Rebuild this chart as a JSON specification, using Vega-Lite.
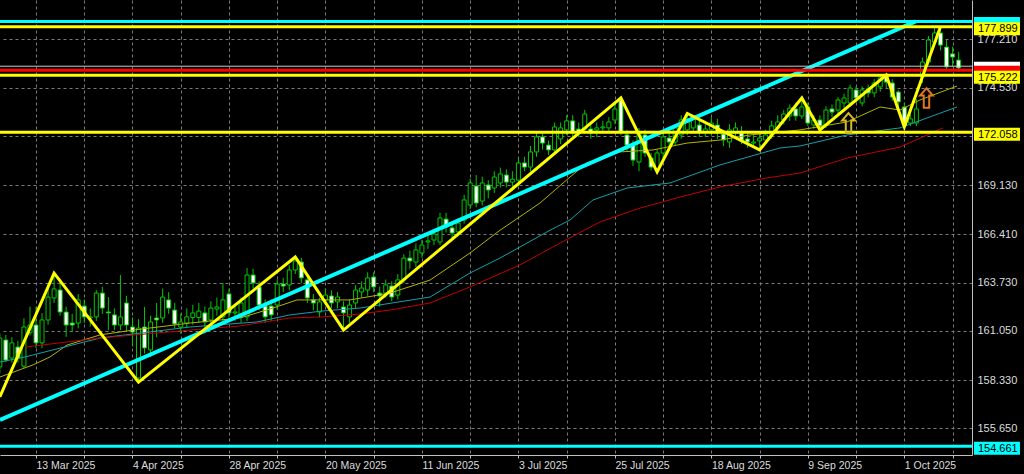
{
"$schema":"https://vega.github.io/schema/vega-lite/v6.json",
"width":972,"height":455,
"autosize":{"type":"none"},
"padding":{"left":0,"top":0,"right":52,"bottom":19},
"background":"#000000",
"config":{"view":{"stroke":null},"scale":{"continuousPadding":0},
 "axis":{"gridColor":"#7a7a7a","gridDash":[3,3],"gridWidth":1,"domainColor":"#c0c0c0","domainWidth":1,"tickColor":"#c0c0c0","labelColor":"#dcdcdc","labelFont":"Liberation Sans","labelOverlap":false,"labelFlush":false,"labelBound":false}},
"resolve":{"scale":{"color":"independent"}},
"datasets":{
"bars":[
{"k":-6,"o":159.06,"h":160.9,"l":158.7,"c":160.66},
{"k":-5,"o":160.55,"h":160.83,"l":159.33,"c":159.44},
{"k":-4,"o":159.55,"h":160.7,"l":159.3,"c":160.39},
{"k":-3,"o":160.16,"h":160.5,"l":159.3,"c":159.55},
{"k":-2,"o":159.1,"h":161.75,"l":159.0,"c":161.27},
{"k":-1,"o":160.95,"h":162.4,"l":160.8,"c":161.38},
{"k":0,"o":161.38,"h":162.4,"l":160.1,"c":160.39},
{"k":1,"o":160.39,"h":162.05,"l":160.1,"c":161.66},
{"k":2,"o":161.66,"h":163.7,"l":161.4,"c":162.93},
{"k":3,"o":162.88,"h":164.26,"l":162.6,"c":163.38},
{"k":4,"o":163.32,"h":163.9,"l":161.9,"c":162.1},
{"k":5,"o":162.1,"h":162.4,"l":160.72,"c":161.38},
{"k":6,"o":161.49,"h":162.0,"l":161.0,"c":161.38},
{"k":7,"o":161.49,"h":163.1,"l":161.2,"c":162.77},
{"k":8,"o":162.43,"h":162.8,"l":161.5,"c":161.83},
{"k":9,"o":161.77,"h":162.3,"l":161.3,"c":161.83},
{"k":10,"o":161.83,"h":163.32,"l":161.6,"c":163.15},
{"k":11,"o":163.15,"h":163.5,"l":162.0,"c":162.32},
{"k":12,"o":162.1,"h":162.93,"l":161.1,"c":162.05},
{"k":13,"o":161.94,"h":162.3,"l":161.1,"c":161.38},
{"k":14,"o":161.38,"h":164.15,"l":161.1,"c":161.83},
{"k":15,"o":162.6,"h":163.0,"l":161.0,"c":161.38},
{"k":16,"o":161.27,"h":161.8,"l":160.2,"c":160.99},
{"k":17,"o":158.45,"h":161.7,"l":158.22,"c":161.21},
{"k":18,"o":161.27,"h":162.38,"l":159.8,"c":160.11},
{"k":19,"o":160.0,"h":161.9,"l":159.6,"c":161.55},
{"k":20,"o":161.77,"h":162.6,"l":160.7,"c":161.66},
{"k":21,"o":161.77,"h":163.4,"l":161.5,"c":162.93},
{"k":22,"o":162.77,"h":163.2,"l":162.0,"c":162.32},
{"k":23,"o":162.21,"h":162.6,"l":161.2,"c":161.44},
{"k":24,"o":161.27,"h":162.0,"l":160.9,"c":161.55},
{"k":25,"o":161.49,"h":162.3,"l":161.2,"c":161.83},
{"k":26,"o":161.8,"h":162.5,"l":161.4,"c":162.05},
{"k":27,"o":161.8,"h":162.6,"l":161.5,"c":162.15},
{"k":28,"o":162.05,"h":162.4,"l":161.2,"c":161.55},
{"k":29,"o":161.66,"h":162.7,"l":161.4,"c":162.32},
{"k":30,"o":162.27,"h":162.9,"l":161.9,"c":162.38},
{"k":31,"o":161.83,"h":163.71,"l":161.6,"c":162.77},
{"k":32,"o":163.1,"h":163.4,"l":161.8,"c":162.05},
{"k":33,"o":162.05,"h":162.5,"l":161.6,"c":162.1},
{"k":34,"o":161.83,"h":162.9,"l":161.5,"c":162.6},
{"k":35,"o":161.83,"h":164.54,"l":161.6,"c":164.15},
{"k":36,"o":164.15,"h":164.5,"l":163.4,"c":163.71},
{"k":37,"o":163.49,"h":163.8,"l":162.2,"c":162.49},
{"k":38,"o":162.43,"h":162.8,"l":161.5,"c":161.83},
{"k":39,"o":162.43,"h":162.8,"l":161.6,"c":161.94},
{"k":40,"o":162.49,"h":163.9,"l":162.2,"c":163.65},
{"k":41,"o":163.65,"h":164.0,"l":163.2,"c":163.54},
{"k":42,"o":163.6,"h":164.7,"l":163.3,"c":164.43},
{"k":43,"o":164.43,"h":165.15,"l":164.2,"c":164.93},
{"k":44,"o":164.87,"h":165.1,"l":163.7,"c":163.99},
{"k":45,"o":163.88,"h":164.1,"l":162.6,"c":162.88},
{"k":46,"o":162.77,"h":163.1,"l":162.2,"c":162.6},
{"k":47,"o":162.1,"h":162.9,"l":161.8,"c":162.66},
{"k":48,"o":162.77,"h":163.4,"l":162.5,"c":163.04},
{"k":49,"o":162.99,"h":163.3,"l":162.3,"c":162.6},
{"k":50,"o":162.66,"h":163.2,"l":162.3,"c":162.93},
{"k":51,"o":162.38,"h":162.7,"l":161.1,"c":162.05},
{"k":52,"o":161.83,"h":162.8,"l":161.5,"c":162.49},
{"k":53,"o":162.6,"h":163.6,"l":162.3,"c":163.32},
{"k":54,"o":163.21,"h":163.8,"l":162.9,"c":163.43},
{"k":55,"o":163.32,"h":164.3,"l":163.0,"c":163.99},
{"k":56,"o":164.04,"h":164.3,"l":163.2,"c":163.49},
{"k":57,"o":163.15,"h":163.5,"l":162.4,"c":162.99},
{"k":58,"o":163.15,"h":163.9,"l":162.9,"c":163.6},
{"k":59,"o":163.54,"h":163.8,"l":162.7,"c":162.93},
{"k":60,"o":163.04,"h":164.2,"l":162.8,"c":163.88},
{"k":61,"o":163.88,"h":165.3,"l":163.7,"c":165.09},
{"k":62,"o":165.09,"h":165.5,"l":164.5,"c":164.93},
{"k":63,"o":164.87,"h":165.9,"l":164.6,"c":165.54},
{"k":64,"o":165.37,"h":166.1,"l":165.1,"c":165.81},
{"k":65,"o":165.98,"h":166.4,"l":165.6,"c":166.04},
{"k":66,"o":166.09,"h":166.7,"l":165.8,"c":166.42},
{"k":67,"o":165.98,"h":167.6,"l":165.8,"c":167.31},
{"k":68,"o":167.25,"h":167.6,"l":166.5,"c":166.81},
{"k":69,"o":166.76,"h":167.0,"l":166.2,"c":166.48},
{"k":70,"o":166.54,"h":167.3,"l":166.3,"c":167.03},
{"k":71,"o":167.2,"h":168.6,"l":167.0,"c":168.31},
{"k":72,"o":168.03,"h":169.5,"l":167.8,"c":169.25},
{"k":73,"o":169.08,"h":169.69,"l":167.9,"c":168.14},
{"k":74,"o":168.25,"h":169.6,"l":168.0,"c":169.25},
{"k":75,"o":169.14,"h":169.4,"l":168.4,"c":168.86},
{"k":76,"o":168.97,"h":169.9,"l":168.7,"c":169.58},
{"k":77,"o":169.25,"h":170.1,"l":169.0,"c":169.75},
{"k":78,"o":169.69,"h":170.0,"l":169.0,"c":169.3},
{"k":79,"o":169.3,"h":169.9,"l":168.8,"c":169.46},
{"k":80,"o":169.41,"h":170.6,"l":169.1,"c":170.36},
{"k":81,"o":170.36,"h":170.7,"l":169.9,"c":170.13},
{"k":82,"o":170.13,"h":171.3,"l":169.9,"c":170.97},
{"k":83,"o":170.97,"h":172.1,"l":170.7,"c":171.8},
{"k":84,"o":171.8,"h":172.0,"l":171.1,"c":171.46},
{"k":85,"o":171.35,"h":171.6,"l":170.8,"c":171.08},
{"k":86,"o":171.08,"h":172.6,"l":170.8,"c":172.35},
{"k":87,"o":171.69,"h":172.6,"l":171.4,"c":172.3},
{"k":88,"o":172.19,"h":173.0,"l":171.9,"c":172.69},
{"k":89,"o":172.69,"h":173.0,"l":171.7,"c":172.02},
{"k":90,"o":172.24,"h":172.6,"l":171.8,"c":172.08},
{"k":91,"o":172.24,"h":173.3,"l":172.0,"c":173.07},
{"k":92,"o":172.24,"h":172.6,"l":171.7,"c":172.02},
{"k":93,"o":172.19,"h":172.6,"l":171.8,"c":172.3},
{"k":94,"o":172.3,"h":172.7,"l":172.0,"c":172.35},
{"k":95,"o":172.3,"h":172.9,"l":172.1,"c":172.63},
{"k":96,"o":172.74,"h":173.6,"l":172.5,"c":173.35},
{"k":97,"o":173.85,"h":173.96,"l":171.9,"c":172.08},
{"k":98,"o":171.91,"h":172.2,"l":171.0,"c":171.35},
{"k":99,"o":171.35,"h":171.6,"l":170.2,"c":170.52},
{"k":100,"o":170.41,"h":172.3,"l":169.9,"c":172.02},
{"k":101,"o":171.91,"h":172.2,"l":170.7,"c":170.91},
{"k":102,"o":170.63,"h":170.9,"l":169.95,"c":170.13},
{"k":103,"o":169.97,"h":171.1,"l":169.86,"c":170.91},
{"k":104,"o":170.91,"h":172.0,"l":170.6,"c":171.8},
{"k":105,"o":171.74,"h":172.0,"l":171.3,"c":171.52},
{"k":106,"o":171.52,"h":172.5,"l":171.3,"c":172.3},
{"k":107,"o":171.91,"h":173.0,"l":171.7,"c":172.74},
{"k":108,"o":172.19,"h":173.1,"l":171.9,"c":172.63},
{"k":109,"o":172.3,"h":173.0,"l":172.0,"c":172.96},
{"k":110,"o":172.46,"h":172.8,"l":171.8,"c":172.08},
{"k":111,"o":172.08,"h":172.5,"l":171.8,"c":172.24},
{"k":112,"o":172.19,"h":172.9,"l":171.9,"c":172.57},
{"k":113,"o":172.46,"h":172.8,"l":171.7,"c":172.02},
{"k":114,"o":171.96,"h":172.2,"l":171.3,"c":171.63},
{"k":115,"o":171.52,"h":172.5,"l":171.2,"c":172.19},
{"k":116,"o":172.02,"h":172.6,"l":171.8,"c":172.3},
{"k":117,"o":172.02,"h":172.4,"l":171.4,"c":171.63},
{"k":118,"o":171.69,"h":172.0,"l":171.2,"c":171.52},
{"k":119,"o":171.46,"h":171.9,"l":171.2,"c":171.52},
{"k":120,"o":171.58,"h":172.0,"l":171.08,"c":171.74},
{"k":121,"o":171.63,"h":172.2,"l":171.4,"c":171.91},
{"k":122,"o":171.91,"h":172.7,"l":171.7,"c":172.41},
{"k":123,"o":172.3,"h":173.0,"l":172.0,"c":172.63},
{"k":124,"o":172.74,"h":173.3,"l":172.5,"c":173.07},
{"k":125,"o":172.96,"h":173.6,"l":172.7,"c":173.4},
{"k":126,"o":173.35,"h":173.7,"l":172.7,"c":172.96},
{"k":127,"o":172.96,"h":173.96,"l":172.8,"c":173.46},
{"k":128,"o":173.46,"h":173.7,"l":172.4,"c":172.57},
{"k":129,"o":172.46,"h":173.0,"l":172.25,"c":172.74},
{"k":130,"o":172.74,"h":173.0,"l":172.19,"c":172.41},
{"k":131,"o":172.46,"h":173.5,"l":172.3,"c":173.29},
{"k":132,"o":173.35,"h":173.6,"l":172.9,"c":173.18},
{"k":133,"o":173.29,"h":174.0,"l":173.0,"c":173.85},
{"k":134,"o":173.68,"h":174.2,"l":173.4,"c":173.96},
{"k":135,"o":173.68,"h":174.7,"l":173.5,"c":174.51},
{"k":136,"o":174.4,"h":174.6,"l":173.7,"c":173.96},
{"k":137,"o":173.68,"h":174.6,"l":173.5,"c":174.4},
{"k":138,"o":174.46,"h":174.7,"l":174.0,"c":174.24},
{"k":139,"o":174.24,"h":175.0,"l":174.0,"c":174.79},
{"k":140,"o":174.57,"h":175.2,"l":174.3,"c":175.07},
{"k":141,"o":175.12,"h":175.23,"l":174.5,"c":174.84},
{"k":142,"o":174.79,"h":175.0,"l":173.8,"c":174.01},
{"k":143,"o":174.29,"h":174.4,"l":173.4,"c":173.74},
{"k":144,"o":173.46,"h":173.7,"l":172.35,"c":172.46},
{"k":145,"o":172.57,"h":173.1,"l":172.4,"c":172.8},
{"k":146,"o":172.57,"h":173.9,"l":172.4,"c":173.35},
{"k":147,"o":175.12,"h":176.2,"l":174.79,"c":175.95},
{"k":148,"o":175.95,"h":177.4,"l":175.8,"c":177.17},
{"k":149,"o":177.06,"h":177.85,"l":176.8,"c":177.56},
{"k":150,"o":177.56,"h":177.92,"l":176.6,"c":176.89},
{"k":151,"o":176.78,"h":177.17,"l":175.5,"c":175.68},
{"k":152,"o":176.4,"h":176.8,"l":175.68,"c":176.23},
{"k":153,"o":176.06,"h":176.5,"l":175.4,"c":175.62}
],
"ma":[
{"ma":"fast","k":-5.97,"p":158.5},{"ma":"fast","k":-0.5,"p":159.17},{"ma":"fast","k":2.32,"p":159.61},{"ma":"fast","k":5.14,"p":160.27},{"ma":"fast","k":10.61,"p":160.83},{"ma":"fast","k":16.09,"p":161.1},{"ma":"fast","k":21.72,"p":161.33},{"ma":"fast","k":25.54,"p":161.49},{"ma":"fast","k":33.83,"p":161.77},{"ma":"fast","k":39.3,"p":162.32},{"ma":"fast","k":43.28,"p":162.77},{"ma":"fast","k":47.59,"p":162.77},{"ma":"fast","k":52.07,"p":162.77},{"ma":"fast","k":58.7,"p":163.15},{"ma":"fast","k":65.34,"p":163.87},{"ma":"fast","k":71.97,"p":165.37},{"ma":"fast","k":76.95,"p":166.63},{"ma":"fast","k":83.58,"p":168.14},{"ma":"fast","k":88.56,"p":169.58},{"ma":"fast","k":91.37,"p":170.36},{"ma":"fast","k":96.85,"p":170.97},{"ma":"fast","k":102.32,"p":171.08},{"ma":"fast","k":107.96,"p":171.46},{"ma":"fast","k":113.43,"p":171.63},{"ma":"fast","k":118.4,"p":171.91},{"ma":"fast","k":126.7,"p":172.19},{"ma":"fast","k":134.49,"p":172.63},{"ma":"fast","k":139.96,"p":173.46},{"ma":"fast","k":143.28,"p":173.29},{"ma":"fast","k":146.6,"p":173.85},{"ma":"fast","k":152.73,"p":174.62},
{"ma":"mid","k":-5.97,"p":159.33},{"ma":"mid","k":-1.82,"p":159.61},{"ma":"mid","k":10.61,"p":160.66},{"ma":"mid","k":25.54,"p":161.27},{"ma":"mid","k":36.65,"p":161.55},{"ma":"mid","k":42.12,"p":161.94},{"ma":"mid","k":47.59,"p":162.16},{"ma":"mid","k":53.73,"p":162.32},{"ma":"mid","k":65.34,"p":162.93},{"ma":"mid","k":71.97,"p":164.26},{"ma":"mid","k":76.95,"p":165.09},{"ma":"mid","k":85.24,"p":166.63},{"ma":"mid","k":88.56,"p":167.2},{"ma":"mid","k":92.37,"p":168.31},{"ma":"mid","k":98.01,"p":168.97},{"ma":"mid","k":105.14,"p":169.25},{"ma":"mid","k":113.43,"p":170.25},{"ma":"mid","k":123.38,"p":171.19},{"ma":"mid","k":126.7,"p":171.3},{"ma":"mid","k":134.49,"p":171.91},{"ma":"mid","k":143.28,"p":172.3},{"ma":"mid","k":152.73,"p":173.46},
{"ma":"slow","k":-1.82,"p":160.16},{"ma":"slow","k":10.61,"p":160.66},{"ma":"slow","k":25.54,"p":161.1},{"ma":"slow","k":33.83,"p":161.33},{"ma":"slow","k":42.12,"p":161.77},{"ma":"slow","k":47.59,"p":161.83},{"ma":"slow","k":53.73,"p":161.99},{"ma":"slow","k":58.7,"p":162.21},{"ma":"slow","k":65.34,"p":162.6},{"ma":"slow","k":71.97,"p":163.49},{"ma":"slow","k":80.26,"p":164.71},{"ma":"slow","k":86.9,"p":165.92},{"ma":"slow","k":93.53,"p":167.09},{"ma":"slow","k":100.16,"p":167.86},{"ma":"slow","k":106.8,"p":168.47},{"ma":"slow","k":113.43,"p":169.03},{"ma":"slow","k":121.22,"p":169.53},{"ma":"slow","k":126.7,"p":169.8},{"ma":"slow","k":134.49,"p":170.63},{"ma":"slow","k":143.28,"p":171.24},{"ma":"slow","k":150.41,"p":172.3}
],
"trend":[{"k":-5.97,"p":156.12},{"k":145.9,"p":178.2}],
"zz":[{"k":-6,"p":157.4},{"k":3,"p":164.26},{"k":17,"p":158.22},{"k":43,"p":165.15},{"k":51,"p":161.1},{"k":97,"p":173.96},{"k":103,"p":169.86},{"k":108,"p":173.1},{"k":120,"p":171.08},{"k":127,"p":173.96},{"k":130,"p":172.19},{"k":141,"p":175.23},{"k":144,"p":172.35},{"k":150,"p":177.92}],
"levels":[
{"name":"cyanTop","p":178.2,"label":""},
{"name":"yellowTop","p":177.899,"label":"177.899"},
{"name":"ask","p":175.72,"label":""},
{"name":"bid","p":175.5,"label":""},
{"name":"yellowMid","p":175.222,"label":"175.222"},
{"name":"yellowLow","p":172.058,"label":"172.058"},
{"name":"cyanBottom","p":154.661,"label":"154.661"}
],
"arrows":[{"name":"a1","k":134.74,"p":172.58},{"name":"a2","k":147.67,"p":173.96}]
},
"layer":[
{"data":{"name":"bars"},
 "mark":{"type":"rule","color":"#00c800","strokeWidth":1},
 "encoding":{
  "x":{"field":"k","type":"quantitative","title":null,"scale":{"domain":[-5.97,155.22],"nice":false,"zero":false,"padding":0},
   "axis":{"orient":"bottom","title":null,"values":[0,8,16,24,32,40,48,56,64,72,80,88,96,104,112,120,128,136,144,152],
    "labelExpr":"datum.value % 16 == 0 ? ['13 Mar 2025','4 Apr 2025','28 Apr 2025','20 May 2025','11 Jun 2025','3 Jul 2025','25 Jul 2025','18 Aug 2025','9 Sep 2025','1 Oct 2025'][datum.value / 16] : ''",
    "grid":true,"domain":true,"ticks":true,"tickSize":3,
    "labelFontSize":10.5,"labelAlign":"left","labelBaseline":"top","labelPadding":2}},
  "y":{"field":"l","type":"quantitative","title":null,"scale":{"domain":[154.179,179.387],"nice":false,"zero":false,"padding":0},
   "axis":{"orient":"right","title":null,"values":[177.21,174.53,171.85,169.13,166.41,163.73,161.05,158.33,155.65],
    "labelExpr":"abs(datum.value - 171.85) < 0.001 ? '' : format(datum.value, '.3f')",
    "grid":true,"domain":true,"ticks":false,
    "labelFontSize":11,"labelPadding":5,"labelBaseline":"middle","labelAlign":"left"}},
  "y2":{"field":"h"}}},
{"data":{"name":"bars"},
 "mark":{"type":"bar","width":4,"stroke":"#00c800","strokeWidth":1},
 "encoding":{
  "x":{"field":"k","type":"quantitative","title":null,"scale":{"domain":[-5.97,155.22],"nice":false,"zero":false,"padding":0}},
  "y":{"field":"o","type":"quantitative","title":null,"scale":{"domain":[154.179,179.387],"nice":false,"zero":false,"padding":0}},
  "y2":{"field":"c"},
  "fill":{"condition":{"test":"datum.c < datum.o","value":"#ffffff"},"value":"#000000"}}},
{"data":{"name":"ma"},
 "mark":{"type":"line","strokeWidth":1},
 "encoding":{
  "x":{"field":"k","type":"quantitative","title":null,"scale":{"domain":[-5.97,155.22],"nice":false,"zero":false,"padding":0}},
  "y":{"field":"p","type":"quantitative","title":null,"scale":{"domain":[154.179,179.387],"nice":false,"zero":false,"padding":0}},
  "color":{"field":"ma","type":"nominal","scale":{"domain":["fast","mid","slow"],"range":["#b4b400","#14a0aa","#c00000"]},"legend":null}}},
{"data":{"name":"trend"},
 "mark":{"type":"line","color":"#00ffff","strokeWidth":4},
 "encoding":{
  "x":{"field":"k","type":"quantitative","title":null,"scale":{"domain":[-5.97,155.22],"nice":false,"zero":false,"padding":0}},
  "y":{"field":"p","type":"quantitative","title":null,"scale":{"domain":[154.179,179.387],"nice":false,"zero":false,"padding":0}}}},
{"data":{"name":"levels"},
 "transform":[{"filter":"datum.name == 'ask'"}],
 "mark":{"type":"rule","color":"#c8c8c8","strokeWidth":1},
 "encoding":{
  "y":{"field":"p","type":"quantitative","title":null,"scale":{"domain":[154.179,179.387],"nice":false,"zero":false,"padding":0}}}},
{"data":{"name":"levels"},
 "transform":[{"filter":"datum.name != 'ask'"}],
 "mark":{"type":"rule","strokeWidth":3},
 "encoding":{
  "y":{"field":"p","type":"quantitative","title":null,"scale":{"domain":[154.179,179.387],"nice":false,"zero":false,"padding":0}},
  "color":{"field":"name","type":"nominal","scale":{"domain":["cyanTop","yellowTop","ask","bid","yellowMid","yellowLow","cyanBottom"],"range":["#00ffff","#ffff00","#ffffff","#ff0000","#ffff00","#ffff00","#00ffff"]},"legend":null}}},
{"data":{"name":"zz"},
 "mark":{"type":"line","color":"#ffff00","strokeWidth":3,"strokeJoin":"miter","strokeMiterLimit":4},
 "encoding":{
  "x":{"field":"k","type":"quantitative","title":null,"scale":{"domain":[-5.97,155.22],"nice":false,"zero":false,"padding":0}},
  "y":{"field":"p","type":"quantitative","title":null,"scale":{"domain":[154.179,179.387],"nice":false,"zero":false,"padding":0}}}},
{"data":{"name":"arrows"},
 "mark":{"type":"point","shape":"M0,-1L0.65,-0.25L0.28,-0.25L0.28,1L-0.28,1L-0.28,-0.25L-0.65,-0.25Z","filled":false,"size":380,"strokeWidth":2,"opacity":1},
 "encoding":{
  "x":{"field":"k","type":"quantitative","title":null,"scale":{"domain":[-5.97,155.22],"nice":false,"zero":false,"padding":0}},
  "y":{"field":"p","type":"quantitative","title":null,"scale":{"domain":[154.179,179.387],"nice":false,"zero":false,"padding":0}},
  "color":{"field":"name","type":"nominal","scale":{"domain":["a1","a2"],"range":["#d8b820","#e07820"]},"legend":null}}},
{"data":{"name":"levels"},
 "mark":{"type":"tick","orient":"horizontal","size":46,"thickness":13,"opacity":1,"yOffset":2},
 "encoding":{
  "x":{"datum":159.36,"type":"quantitative","title":null,"scale":{"domain":[-5.97,155.22],"nice":false,"zero":false,"padding":0}},
  "y":{"field":"p","type":"quantitative","title":null,"scale":{"domain":[154.179,179.387],"nice":false,"zero":false,"padding":0}},
  "color":{"field":"name","type":"nominal","scale":{"domain":["cyanTop","yellowTop","ask","bid","yellowMid","yellowLow","cyanBottom"],"range":["#00ffff","#ffff00","#ffffff","#ff0000","#ffff00","#ffff00","#00ffff"]},"legend":null}}},
{"data":{"name":"levels"},
 "transform":[{"filter":"datum.label != ''"}],
 "mark":{"type":"text","color":"#000000","font":"Liberation Sans","fontSize":11,"align":"center","baseline":"middle","dy":2.5},
 "encoding":{
  "x":{"datum":159.5,"type":"quantitative","title":null,"scale":{"domain":[-5.97,155.22],"nice":false,"zero":false,"padding":0}},
  "y":{"field":"p","type":"quantitative","title":null,"scale":{"domain":[154.179,179.387],"nice":false,"zero":false,"padding":0}},
  "text":{"field":"label"}}}
]
}
